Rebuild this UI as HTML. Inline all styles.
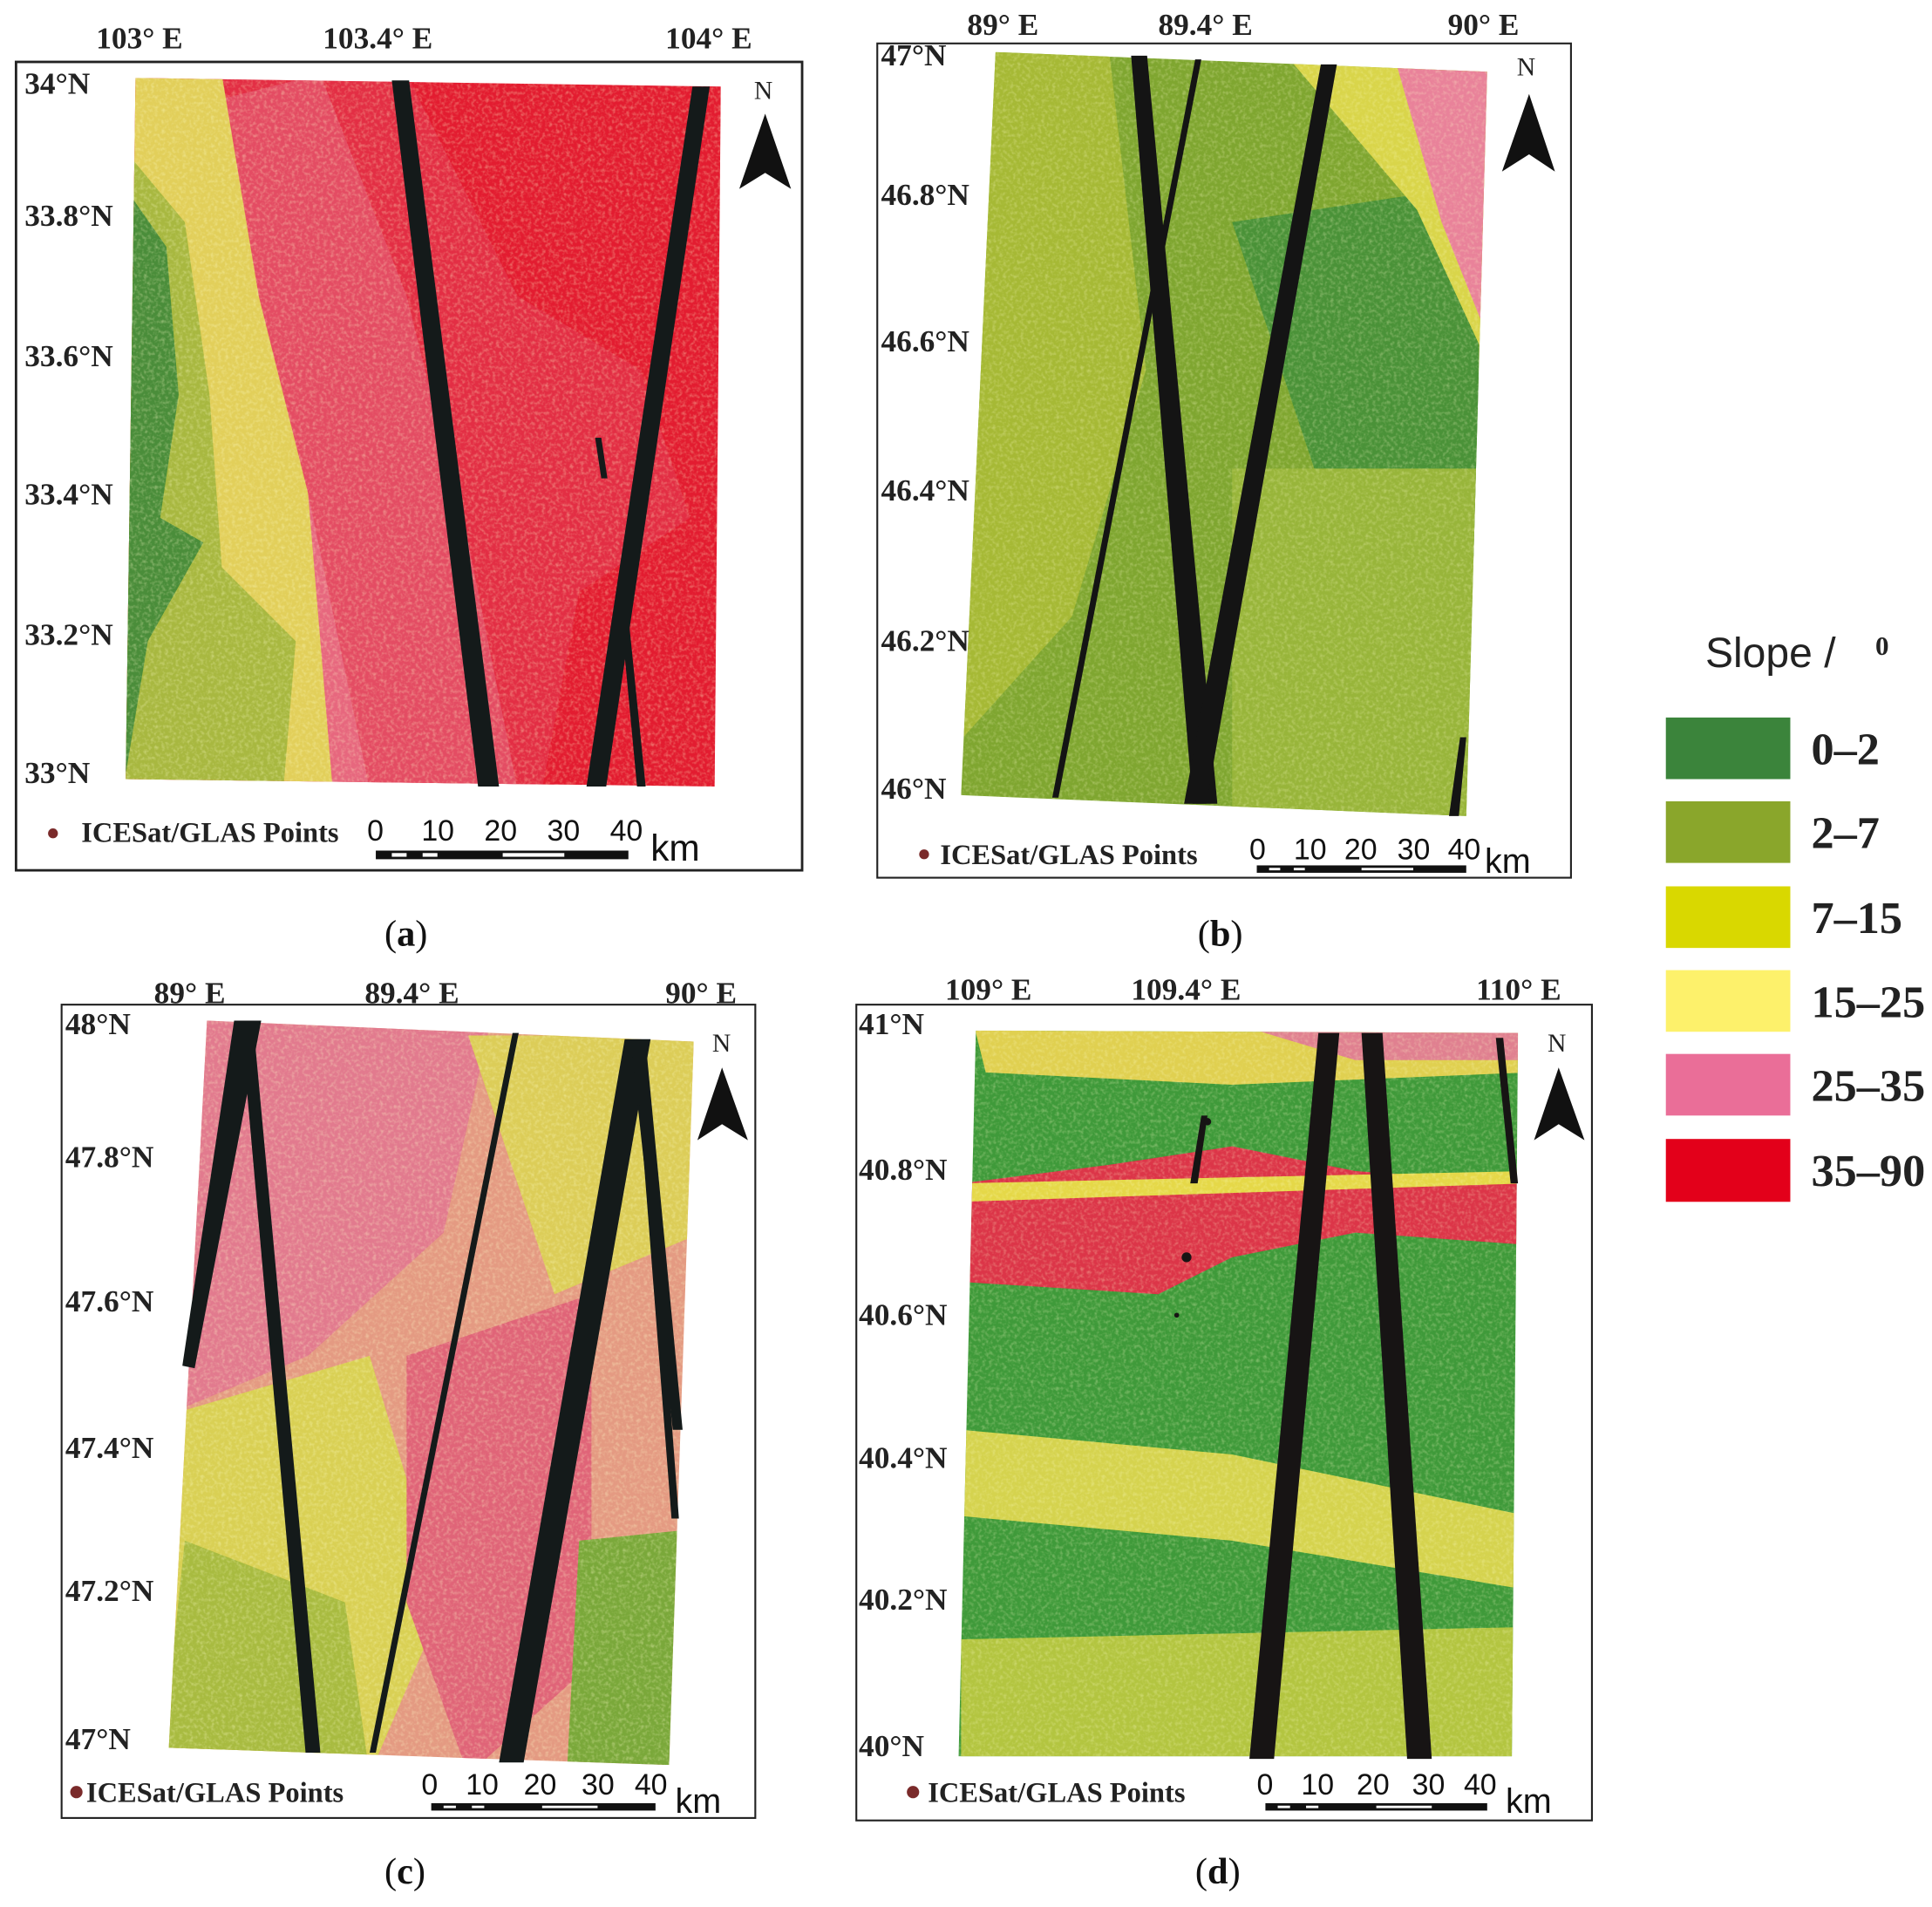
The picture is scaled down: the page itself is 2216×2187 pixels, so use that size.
<!DOCTYPE html>
<html><head><meta charset="utf-8"><style>
html,body{margin:0;padding:0;background:#fff;}
svg{display:block;}
.t{font-family:"Liberation Serif",serif;font-weight:bold;font-size:25px;fill:#222;}
.s{font-family:"Liberation Sans",sans-serif;font-size:24px;fill:#111;}
.cap{font-family:"Liberation Serif",serif;font-size:30px;fill:#111;}
.lg{font-family:"Liberation Serif",serif;font-weight:bold;font-size:37px;fill:#222;}
</style></head><body>
<svg width="2216" height="2187" viewBox="0 0 1568 1547" xmlns="http://www.w3.org/2000/svg">
<defs>
<filter id="nz" x="0" y="0" width="100%" height="100%">
<feTurbulence type="fractalNoise" baseFrequency="0.35" numOctaves="2" seed="3"/>
<feColorMatrix values="0 0 0 0 1  0 0 0 0 1  0 0 0 0 0.6  0 0 0 -2.2 1.25"/>
</filter>
<clipPath id="ca"><polygon points="110,63 585,70 580,638 102,632"/></clipPath>
<clipPath id="cb"><polygon points="808,42 1207,58 1190,662 780,645"/></clipPath>
<clipPath id="cc"><polygon points="168,828 563,845 543,1432 137,1418"/></clipPath>
<clipPath id="cd"><polygon points="792,836 1232,838 1227,1425 778,1425"/></clipPath>
</defs>
<rect width="1568" height="1547" fill="#fff"/>

<!-- Panel a -->
<rect x="13" y="50" width="638" height="656" fill="#fff" stroke="#222" stroke-width="2"/>
<g clip-path="url(#ca)">
<rect x="100" y="60" width="490" height="580" fill="#e31c30"/>
<polygon points="100,100 260,60 330,240 380,440 420,640 100,640" fill="#e7677e"/>
<polygon points="100,60 330,60 420,240 520,300 560,420 470,480 440,640 300,640 250,400 200,250" fill="#e33a52" opacity="0.6"/>
<polygon points="100,60 180,60 210,240 250,400 270,640 100,640" fill="#e2cf5a"/>
<polygon points="100,120 150,180 170,320 180,460 240,520 230,640 100,640" fill="#a8b840"/>
<polygon points="100,150 135,200 145,320 130,420 165,440 120,520 100,640" fill="#4a8d3a"/>
<rect x="100" y="60" width="490" height="580" filter="url(#nz)" opacity="0.35"/>
</g>
<g fill="#141a1a">
<polygon points="318,65 332,65 405,638 388,638"/>
<polygon points="562,70 576,70 492,638 476,638"/>
<polygon points="504,500 510,500 524,638 517,638"/>
<polygon points="483,355 488,355 493,388 488,388"/>
</g>
<g class="t">
<text x="78" y="39">103° E</text><text x="262" y="39">103.4° E</text><text x="540" y="39">104° E</text>
<text x="20" y="76">34°N</text><text x="20" y="183">33.8°N</text><text x="20" y="297">33.6°N</text>
<text x="20" y="409">33.4°N</text><text x="20" y="523">33.2°N</text><text x="20" y="635">33°N</text>
<text x="66" y="683" style="font-size:23px">ICESat/GLAS Points</text>
</g>
<circle cx="43" cy="676" r="4" fill="#7a2a2a"/>
<text class="t" x="612" y="80" style="font-weight:normal;font-size:21px">N</text>
<polygon points="621,92 600,153 621,140 642,153" fill="#111"/>
<g class="s"><text x="298" y="682">0</text><text x="342" y="682">10</text><text x="393" y="682">20</text><text x="444" y="682">30</text><text x="495" y="682">40</text><text x="528" y="698" style="font-size:30px">km</text></g>
<rect x="305" y="690" width="205" height="7" fill="#111"/><rect x="318" y="692" width="12" height="3" fill="#fff"/><rect x="343" y="692" width="12" height="3" fill="#fff"/><rect x="408" y="692" width="50" height="3" fill="#fff"/>
<text class="cap" x="312" y="767">(<tspan font-weight="bold">a</tspan>)</text>

<!-- Panel b -->
<rect x="712" y="35" width="563" height="677" fill="#fff" stroke="#222" stroke-width="1.5"/>
<g clip-path="url(#cb)">
<rect x="770" y="40" width="440" height="630" fill="#7fa630"/>
<polygon points="780,40 900,40 930,300 870,500 780,600" fill="#a6b935"/>
<polygon points="1000,180 1200,150 1200,450 1100,480" fill="#4a9238"/>
<polygon points="1040,40 1210,40 1210,300 1150,170" fill="#d9d54a"/>
<polygon points="1130,40 1210,40 1210,280 1170,180" fill="#e9829a"/>
<polygon points="1000,380 1200,380 1200,670 1000,670" fill="#98b53a"/>
<rect x="770" y="40" width="440" height="630" filter="url(#nz)" opacity="0.3"/>
</g>
<g fill="#141414">
<polygon points="970,48 975,48 859,647 854,647"/>
<polygon points="918,45 931,45 988,652 968,652"/>
<polygon points="1072,52 1085,52 979,652 961,652"/>
<polygon points="1185,598 1190,598 1184,662 1176,662"/>
</g>
<g class="t">
<text x="785" y="28">89° E</text><text x="940" y="28">89.4° E</text><text x="1175" y="28">90° E</text>
<text x="715" y="53">47°N</text><text x="715" y="166">46.8°N</text><text x="715" y="285">46.6°N</text>
<text x="715" y="406">46.4°N</text><text x="715" y="528">46.2°N</text><text x="715" y="648">46°N</text>
<text x="763" y="701" style="font-size:23px">ICESat/GLAS Points</text>
</g>
<circle cx="750" cy="693" r="4" fill="#7a2a2a"/>
<text class="t" x="1231" y="61" style="font-weight:normal;font-size:21px">N</text>
<polygon points="1241,76 1219,139 1241,125 1262,139" fill="#111"/>
<g class="s"><text x="1014" y="697">0</text><text x="1050" y="697">10</text><text x="1091" y="697">20</text><text x="1134" y="697">30</text><text x="1175" y="697">40</text><text x="1205" y="708" style="font-size:28px">km</text></g>
<rect x="1020" y="702" width="170" height="6" fill="#111"/><rect x="1030" y="704" width="9" height="2" fill="#fff"/><rect x="1050" y="704" width="9" height="2" fill="#fff"/><rect x="1105" y="704" width="42" height="2" fill="#fff"/>
<text class="cap" x="972" y="767">(<tspan font-weight="bold">b</tspan>)</text>

<!-- Panel c -->
<rect x="50" y="815" width="563" height="660" fill="#fff" stroke="#222" stroke-width="1.5"/>
<g clip-path="url(#cc)">
<rect x="130" y="820" width="440" height="620" fill="#e49a82"/>
<polygon points="130,820 400,820 360,1000 250,1100 130,1150" fill="#e27a8e"/>
<polygon points="380,840 570,840 570,1000 450,1050" fill="#dccd58"/>
<polygon points="130,1150 300,1100 360,1300 300,1440 130,1440" fill="#d9d054"/>
<polygon points="150,1250 280,1300 300,1440 130,1440" fill="#a8bb40"/>
<polygon points="330,1100 480,1050 480,1350 380,1440 330,1300" fill="#e06478"/>
<polygon points="470,1250 570,1240 570,1440 460,1440" fill="#7aa83a"/>
<rect x="130" y="820" width="440" height="620" filter="url(#nz)" opacity="0.35"/>
</g>
<g fill="#141a1a">
<polygon points="190,828 212,828 158,1110 148,1108"/>
<polygon points="196,835 206,835 260,1422 248,1422"/>
<polygon points="416,838 421,838 305,1422 300,1422"/>
<polygon points="507,843 528,843 425,1430 405,1430"/>
<polygon points="512,845 524,845 554,1160 546,1160"/>
<polygon points="515,845 522,845 551,1232 545,1232"/>
</g>
<g class="t">
<text x="125" y="814">89° E</text><text x="296" y="814">89.4° E</text><text x="540" y="814">90° E</text>
<text x="53" y="839">48°N</text><text x="53" y="947">47.8°N</text><text x="53" y="1064">47.6°N</text>
<text x="53" y="1183">47.4°N</text><text x="53" y="1299">47.2°N</text><text x="53" y="1419">47°N</text>
<text x="70" y="1462" style="font-size:23px">ICESat/GLAS Points</text>
</g>
<circle cx="62" cy="1454" r="5" fill="#7a2a2a"/>
<text class="t" x="578" y="853" style="font-weight:normal;font-size:21px">N</text>
<polygon points="586,866 566,925 586,912 607,925" fill="#111"/>
<g class="s"><text x="342" y="1456">0</text><text x="378" y="1456">10</text><text x="425" y="1456">20</text><text x="472" y="1456">30</text><text x="515" y="1456">40</text><text x="548" y="1471" style="font-size:28px">km</text></g>
<rect x="350" y="1463" width="182" height="6" fill="#111"/><rect x="360" y="1465" width="10" height="2" fill="#fff"/><rect x="383" y="1465" width="10" height="2" fill="#fff"/><rect x="440" y="1465" width="45" height="2" fill="#fff"/>
<text class="cap" x="312" y="1528">(<tspan font-weight="bold">c</tspan>)</text>

<!-- Panel d -->
<rect x="695" y="815" width="597" height="662" fill="#fff" stroke="#222" stroke-width="1.5"/>
<g clip-path="url(#cd)">
<rect x="770" y="830" width="470" height="600" fill="#3f9a3a"/>
<polygon points="790,830 1240,830 1240,870 1000,880 800,870" fill="#e0d050"/>
<polygon points="1000,830 1240,830 1240,860 1100,860" fill="#e08090"/>
<polygon points="780,960 900,945 1000,930 1100,950 1240,960 1240,1010 1100,1000 1000,1020 940,1050 780,1040" fill="#dc3548"/>
<polygon points="780,960 1240,950 1240,960 780,975" fill="#e5d848"/>
<polygon points="780,1160 1000,1180 1240,1230 1240,1290 1000,1250 780,1230" fill="#d5d34e"/>
<polygon points="780,1330 1240,1320 1240,1430 780,1430" fill="#b3c540"/>
<rect x="770" y="830" width="470" height="600" filter="url(#nz)" opacity="0.3"/>
</g>
<g fill="#171414">
<polygon points="1070,838 1087,838 1034,1427 1014,1427"/>
<polygon points="1105,838 1122,838 1162,1427 1142,1427"/>
<polygon points="1214,842 1220,842 1232,960 1226,960"/>
<polygon points="975,905 980,905 972,960 966,960"/>
<circle cx="980" cy="910" r="3"/><circle cx="963" cy="1020" r="4"/><circle cx="955" cy="1067" r="2"/>
</g>
<g class="t">
<text x="767" y="811">109° E</text><text x="918" y="811">109.4° E</text><text x="1198" y="811">110° E</text>
<text x="697" y="839">41°N</text><text x="697" y="957">40.8°N</text><text x="697" y="1075">40.6°N</text>
<text x="697" y="1191">40.4°N</text><text x="697" y="1306">40.2°N</text><text x="697" y="1425">40°N</text>
<text x="753" y="1462" style="font-size:23px">ICESat/GLAS Points</text>
</g>
<circle cx="741" cy="1454" r="5" fill="#7a2a2a"/>
<text class="t" x="1256" y="853" style="font-weight:normal;font-size:21px">N</text>
<polygon points="1265,866 1245,925 1265,912 1286,925" fill="#111"/>
<g class="s"><text x="1020" y="1456">0</text><text x="1056" y="1456">10</text><text x="1101" y="1456">20</text><text x="1146" y="1456">30</text><text x="1188" y="1456">40</text><text x="1222" y="1471" style="font-size:28px">km</text></g>
<rect x="1027" y="1463" width="180" height="6" fill="#111"/><rect x="1037" y="1465" width="10" height="2" fill="#fff"/><rect x="1060" y="1465" width="10" height="2" fill="#fff"/><rect x="1117" y="1465" width="45" height="2" fill="#fff"/>
<text class="cap" x="970" y="1528">(<tspan font-weight="bold">d</tspan>)</text>

<!-- Legend -->
<text x="1384" y="541" font-family="Liberation Sans,sans-serif" font-size="34" fill="#222">Slope /</text>
<text x="1522" y="531" class="t" style="font-size:22px">0</text>
<rect x="1352" y="582" width="101" height="50" fill="#3b843b"/>
<rect x="1352" y="650" width="101" height="50" fill="#8aa62b"/>
<rect x="1352" y="719" width="101" height="50" fill="#d9d800"/>
<rect x="1352" y="787" width="101" height="50" fill="#fdf16b"/>
<rect x="1352" y="855" width="101" height="50" fill="#ea6e98"/>
<rect x="1352" y="924" width="101" height="51" fill="#e3001a"/>
<g class="lg">
<text x="1470" y="620">0–2</text><text x="1470" y="688">2–7</text><text x="1470" y="757">7–15</text>
<text x="1470" y="825">15–25</text><text x="1470" y="893">25–35</text><text x="1470" y="962">35–90</text>
</g>
</svg>
</body></html>
